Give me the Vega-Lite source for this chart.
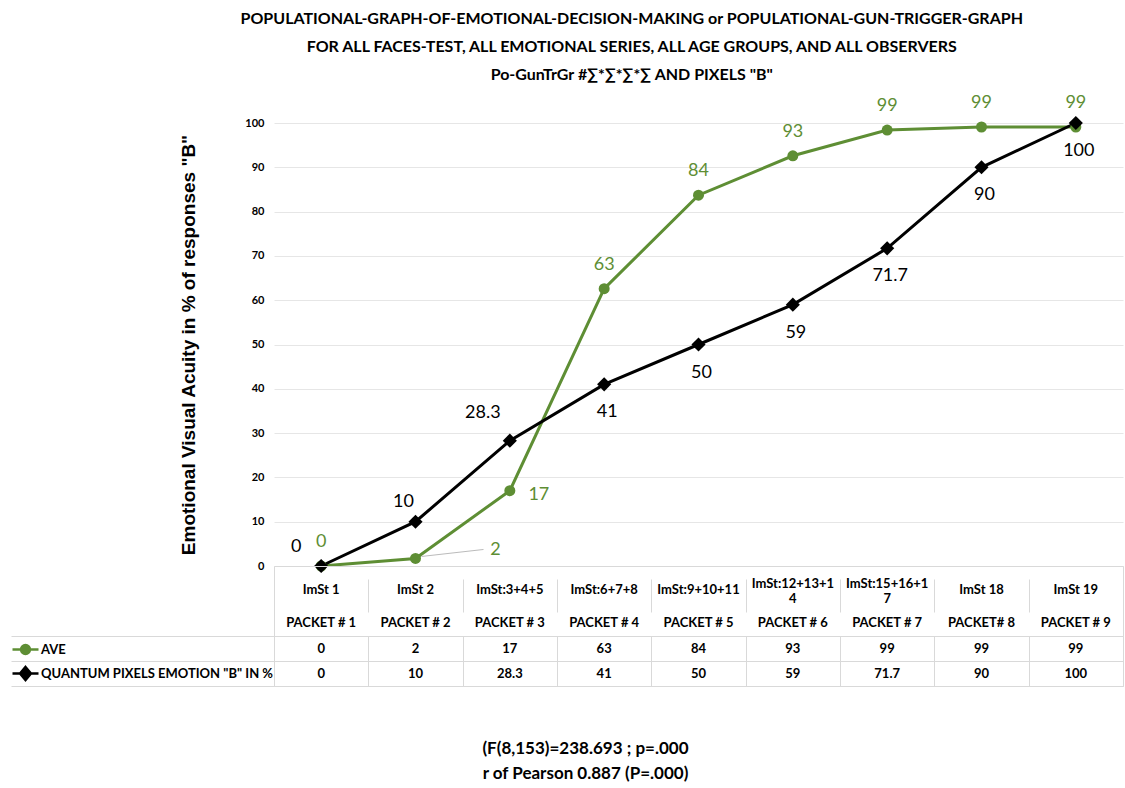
{
  "$schema": "https://vega.github.io/schema/vega-lite/v6.json",
  "padding": {"left": 10, "top": 10, "right": 0, "bottom": 5},
  "background": "white",
  "title": {
    "text": ["POPULATIONAL-GRAPH-OF-EMOTIONAL-DECISION-MAKING or POPULATIONAL-GUN-TRIGGER-GRAPH", "FOR ALL FACES-TEST, ALL EMOTIONAL SERIES, ALL AGE GROUPS, AND ALL OBSERVERS", "Po-GunTrGr #∑*∑*∑*∑ AND PIXELS \"B\""],
    "font": "Lato", "fontSize": 16, "fontWeight": "bold", "color": "black",
    "lineHeight": 28, "anchor": "middle", "dx": 65, "offset": 11
  },
  "config": {"view": {"stroke": null}, "font": "Lato"},
  "spacing": 0,
  "bounds": "flush",
  "datasets": {
    "d": [
      {"step": "ImSt 1", "hdr": "ImSt 1", "packet": "PACKET # 1", "series": "AVE", "v": 0, "label": "0"},
      {"step": "ImSt 2", "hdr": "ImSt 2", "packet": "PACKET # 2", "series": "AVE", "v": 1.7, "label": "2"},
      {"step": "ImSt:3+4+5", "hdr": "ImSt:3+4+5", "packet": "PACKET # 3", "series": "AVE", "v": 17, "label": "17"},
      {"step": "ImSt:6+7+8", "hdr": "ImSt:6+7+8", "packet": "PACKET # 4", "series": "AVE", "v": 62.6, "label": "63"},
      {"step": "ImSt:9+10+11", "hdr": "ImSt:9+10+11", "packet": "PACKET # 5", "series": "AVE", "v": 83.7, "label": "84"},
      {"step": "ImSt:12+13+14", "hdr": "ImSt:12+13+1\n4", "packet": "PACKET # 6", "series": "AVE", "v": 92.6, "label": "93"},
      {"step": "ImSt:15+16+17", "hdr": "ImSt:15+16+1\n7", "packet": "PACKET # 7", "series": "AVE", "v": 98.4, "label": "99"},
      {"step": "ImSt 18", "hdr": "ImSt 18", "packet": "PACKET# 8", "series": "AVE", "v": 99.1, "label": "99"},
      {"step": "ImSt 19", "hdr": "ImSt 19", "packet": "PACKET # 9", "series": "AVE", "v": 99.1, "label": "99"},
      {"step": "ImSt 1", "hdr": "ImSt 1", "packet": "PACKET # 1", "series": "QUANTUM PIXELS EMOTION \"B\" IN %", "v": 0, "label": "0"},
      {"step": "ImSt 2", "hdr": "ImSt 2", "packet": "PACKET # 2", "series": "QUANTUM PIXELS EMOTION \"B\" IN %", "v": 10, "label": "10"},
      {"step": "ImSt:3+4+5", "hdr": "ImSt:3+4+5", "packet": "PACKET # 3", "series": "QUANTUM PIXELS EMOTION \"B\" IN %", "v": 28.3, "label": "28.3"},
      {"step": "ImSt:6+7+8", "hdr": "ImSt:6+7+8", "packet": "PACKET # 4", "series": "QUANTUM PIXELS EMOTION \"B\" IN %", "v": 41, "label": "41"},
      {"step": "ImSt:9+10+11", "hdr": "ImSt:9+10+11", "packet": "PACKET # 5", "series": "QUANTUM PIXELS EMOTION \"B\" IN %", "v": 50, "label": "50"},
      {"step": "ImSt:12+13+14", "hdr": "ImSt:12+13+1\n4", "packet": "PACKET # 6", "series": "QUANTUM PIXELS EMOTION \"B\" IN %", "v": 59, "label": "59"},
      {"step": "ImSt:15+16+17", "hdr": "ImSt:15+16+1\n7", "packet": "PACKET # 7", "series": "QUANTUM PIXELS EMOTION \"B\" IN %", "v": 71.7, "label": "71.7"},
      {"step": "ImSt 18", "hdr": "ImSt 18", "packet": "PACKET# 8", "series": "QUANTUM PIXELS EMOTION \"B\" IN %", "v": 90, "label": "90"},
      {"step": "ImSt 19", "hdr": "ImSt 19", "packet": "PACKET # 9", "series": "QUANTUM PIXELS EMOTION \"B\" IN %", "v": 100, "label": "100"}
    ]
  },
  "resolve": {"scale": {"x": "shared", "y": "independent", "color": "independent"}},
  "vconcat": [
    {
      "width": 849,
      "height": 443,
      "data": {"name": "d"},
      "encoding": {
        "x": {"field": "step", "type": "nominal", "sort": null, "scale": {"type": "band", "paddingInner": 0, "paddingOuter": 0}, "axis": null},
        "y": {"field": "v", "type": "quantitative", "scale": {"domain": [0, 100], "nice": false},
          "axis": {"title": "Emotional Visual Acuity in % of responses \"B\"", "titleFont": "Liberation Sans", "titleFontSize": 19, "titleFontWeight": "bold", "titleColor": "black", "titlePadding": 46,
            "values": [0, 10, 20, 30, 40, 50, 60, 70, 80, 90, 100], "labelFont": "Lato", "labelFontSize": 11, "labelFontWeight": "bold", "labelColor": "black", "labelPadding": 10,
            "ticks": false, "domain": false, "grid": true, "gridColor": "#e6e6e6", "gridWidth": 1}}
      },
      "layer": [
        {
          "mark": {"type": "line", "strokeWidth": 3},
          "encoding": {
            "color": {"field": "series", "type": "nominal",
              "scale": {"domain": ["AVE", "QUANTUM PIXELS EMOTION \"B\" IN %"], "range": ["#5e8e34", "#000000"]},
              "legend": {"orient": "none", "legendX": -263, "legendY": 512, "title": null, "padding": 0,
                "labelFont": "Lato", "labelFontSize": 13, "labelFontWeight": "bold", "labelColor": "black", "labelOffset": 1, "labelLimit": 300,
                "symbolSize": 676, "rowPadding": 0, "symbolStrokeWidth": 2.5,
                "encode": {"symbols": {"update": {
                  "shape": {"signal": "datum.value === 'AVE' ? 'M-1,0H1M-0.34,0A0.34,0.34 0 1,0 0.34,0A0.34,0.34 0 1,0 -0.34,0Z' : 'M-1,0H1M0,-0.5L0.42,0L0,0.5L-0.42,0Z'"},
                  "fill": {"signal": "datum.value === 'AVE' ? '#5e8e34' : '#000000'"},
                  "stroke": {"signal": "datum.value === 'AVE' ? '#5e8e34' : '#000000'"},
                  "strokeWidth": {"value": 2.5},
                  "opacity": {"value": 1}, "fillOpacity": {"value": 1}, "strokeOpacity": {"value": 1}
                }}}}
            }
          }
        },
        {
          "mark": {"type": "point", "filled": true, "opacity": 1},
          "encoding": {
            "color": {"field": "series", "type": "nominal", "legend": null},
            "shape": {"field": "series", "type": "nominal", "scale": {"domain": ["AVE", "QUANTUM PIXELS EMOTION \"B\" IN %"], "range": ["circle", "diamond"]}, "legend": null},
            "size": {"field": "series", "type": "nominal", "scale": {"domain": ["AVE", "QUANTUM PIXELS EMOTION \"B\" IN %"], "range": [121, 200]}, "legend": null}
          }
        },
        {
          "transform": [{"filter": "datum.series === 'AVE' && datum.step === 'ImSt 2'"}],
          "mark": {"type": "rule", "color": "#bbbbbb", "strokeWidth": 1, "xOffset": 6, "yOffset": -2, "x2Offset": 68, "y2Offset": -9},
          "encoding": {"x2": {"field": "step"}, "y2": {"field": "v"}}
        },
        {
          "transform": [{"filter": "datum.series === 'AVE' && datum.step !== 'ImSt 2' && datum.step !== 'ImSt:3+4+5'"}],
          "mark": {"type": "text", "fontSize": 18, "color": "#5e8e34", "dy": -24, "font": "Lato"},
          "encoding": {"text": {"field": "label"}}
        },
        {
          "transform": [{"filter": "datum.series === 'AVE' && datum.step === 'ImSt 2'"}],
          "mark": {"type": "text", "fontSize": 18, "color": "#5e8e34", "dx": 80, "dy": -8, "font": "Lato"},
          "encoding": {"text": {"field": "label"}}
        },
        {
          "transform": [{"filter": "datum.series === 'AVE' && datum.step === 'ImSt:3+4+5'"}],
          "mark": {"type": "text", "fontSize": 18, "color": "#5e8e34", "dx": 29, "dy": 4, "font": "Lato"},
          "encoding": {"text": {"field": "label"}}
        },
        {
          "transform": [{"filter": "datum.series !== 'AVE' && datum.step !== 'ImSt 1' && datum.step !== 'ImSt 2' && datum.step !== 'ImSt:3+4+5'"}],
          "mark": {"type": "text", "fontSize": 18, "color": "black", "dy": 28, "dx": 3, "font": "Lato"},
          "encoding": {"text": {"field": "label"}}
        },
        {
          "transform": [{"filter": "datum.series !== 'AVE' && datum.step === 'ImSt 1'"}],
          "mark": {"type": "text", "fontSize": 18, "color": "black", "dx": -25, "dy": -19, "font": "Lato"},
          "encoding": {"text": {"field": "label"}}
        },
        {
          "transform": [{"filter": "datum.series !== 'AVE' && datum.step === 'ImSt 2'"}],
          "mark": {"type": "text", "fontSize": 18, "color": "black", "dx": -12, "dy": -20, "font": "Lato"},
          "encoding": {"text": {"field": "label"}}
        },
        {
          "transform": [{"filter": "datum.series !== 'AVE' && datum.step === 'ImSt:3+4+5'"}],
          "mark": {"type": "text", "fontSize": 18, "color": "black", "dx": -27, "dy": -28, "font": "Lato"},
          "encoding": {"text": {"field": "label"}}
        }
      ]
    },
    {
      "width": 849,
      "height": 70,
      "view": {"stroke": "#d9d9d9"},
      "data": {"name": "d"},
      "transform": [{"filter": "datum.series === 'AVE'"}, {"fold": ["hdr", "packet"], "as": ["row", "txt"]}],
      "encoding": {
        "x": {"field": "step", "type": "nominal", "sort": null,
          "axis": {"labels": false, "ticks": false, "domain": false, "grid": true, "gridColor": "#d9d9d9", "tickBand": "extent", "title": null}},
        "y": {"field": "row", "type": "nominal", "scale": {"type": "point", "domain": ["hdr", "packet"], "range": [24, 57], "padding": 0}, "axis": null},
        "text": {"field": "txt"}
      },
      "layer": [
        {
          "transform": [{"filter": "indexof(datum.txt, '\\n') < 0"}],
          "mark": {"type": "text", "lineBreak": "\n", "font": "Lato", "fontWeight": "bold", "fontSize": 13, "lineHeight": 15, "color": "black"}
        },
        {
          "transform": [{"filter": "indexof(datum.txt, '\\n') >= 0"}],
          "mark": {"type": "text", "lineBreak": "\n", "font": "Lato", "fontWeight": "bold", "fontSize": 13, "lineHeight": 15, "color": "black", "dy": -6}
        }
      ]
    },
    {
      "width": 849,
      "height": 50,
      "view": {"stroke": "#d9d9d9"},
      "data": {"name": "d"},
      "mark": {"type": "text", "font": "Lato", "fontWeight": "bold", "fontSize": 13, "color": "black"},
      "encoding": {
        "x": {"field": "step", "type": "nominal", "sort": null,
          "axis": {"labels": false, "ticks": false, "domain": false, "grid": true, "gridColor": "#d9d9d9", "tickBand": "extent",
            "title": ["(F(8,153)=238.693 ; p=.000", "r of Pearson 0.887 (P=.000)"], "titleFont": "Lato", "titleFontSize": 17, "titleFontWeight": "bold", "titleColor": "black",
            "titleLineHeight": 25, "titlePadding": 54, "titleX": 311}},
        "y": {"field": "series", "type": "nominal", "scale": {"type": "band", "domain": ["AVE", "QUANTUM PIXELS EMOTION \"B\" IN %"], "paddingInner": 0, "paddingOuter": 0},
          "axis": {"labels": false, "domain": false, "ticks": true, "tickSize": 263, "tickColor": "#d9d9d9", "tickBand": "extent", "grid": true, "gridColor": "#d9d9d9", "title": null}},
        "text": {"field": "label"}
      }
    }
  ]
}
